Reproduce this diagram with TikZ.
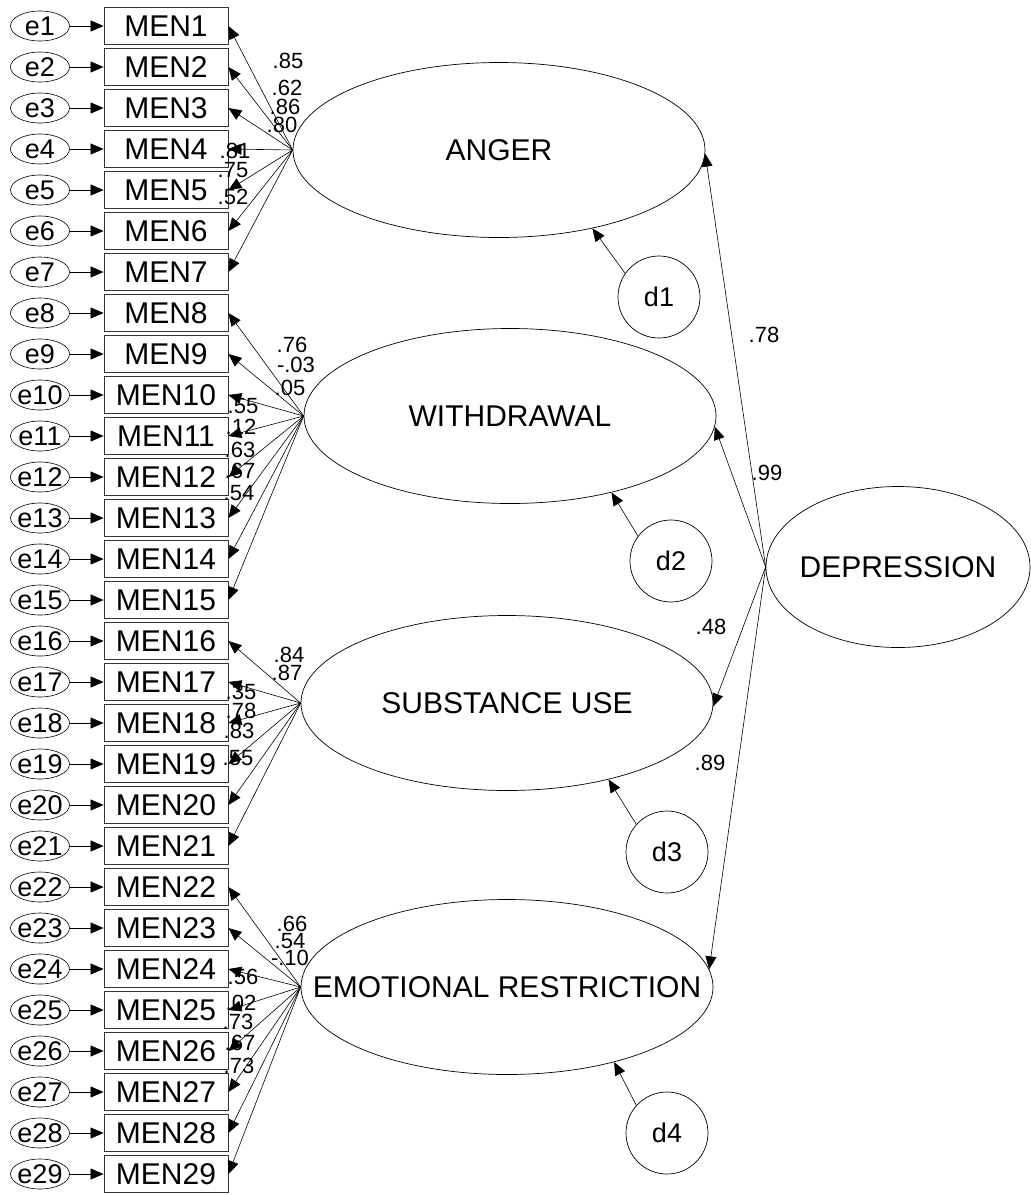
\documentclass[tikz,border=0pt]{standalone}
\usepackage{fontspec}
\setmainfont{Liberation Sans}
\usetikzlibrary{arrows.meta,shapes.geometric}
\newcommand{\ItemFont}{\fontsize{30}{34}\selectfont}
\newcommand{\ErrFont}{\fontsize{27}{31}\selectfont}
\newcommand{\CoefFont}{\fontsize{22}{25}\selectfont}
\tikzset{
  obsbox/.style={draw=black!80,line width=0.8pt,minimum width=124pt,minimum height=37pt,inner sep=0pt,font=\ItemFont},
  errnode/.style={ellipse,draw,line width=0.6pt,minimum width=59pt,minimum height=30pt,inner sep=0pt,font=\ErrFont},
  latent/.style={ellipse,draw,line width=0.7pt,minimum width=412pt,minimum height=175pt,inner sep=0pt,font=\ItemFont},
  distnode/.style={circle,draw,line width=0.7pt,minimum size=82pt,inner sep=0pt,font=\ErrFont},
  arrline/.style={-{Triangle[length=13pt,width=11pt]},line width=0.6pt},
  coef/.style={font=\CoefFont,inner sep=0pt},
}
\begin{document}
\begin{tikzpicture}[x=1pt,y=-1pt]
  \useasboundingbox (0,0) rectangle (1031,1195);
  % items with their error terms
  \foreach \i in {1,...,29}{
    \node[obsbox] (m\i) at (166,{26+41*(\i-1)}) {MEN\i};
    \node[errnode] (e\i) at (40,{26+41*(\i-1)}) {\makebox[0pt]{e\i}};
    \draw[arrline] (e\i) -- (m\i);
  }
  % first-order factors
  \node[latent] (anger) at (499,150) {\makebox[0pt]{ANGER}};
  \node[latent] (withd) at (510,416) {\makebox[0pt]{WITHDRAWAL}};
  \node[latent] (subst) at (507,703) {\makebox[0pt]{SUBSTANCE USE}};
  \node[latent] (emo) at (507,987) {\makebox[0pt]{EMOTIONAL RESTRICTION}};
  % second-order factor
  \node[latent,minimum width=264pt,minimum height=161pt] (depr) at (898,567) {\makebox[0pt]{DEPRESSION}};
  % disturbances
  \node[distnode] (d1) at (659,297) {d1};
  \node[distnode] (d2) at (671,561) {d2};
  \node[distnode] (d3) at (667,852) {d3};
  \node[distnode] (d4) at (667,1133) {d4};
  % coefficients
  \foreach \v/\x/\y [count=\k] in {.85/288/61,.62/287/88,.86/285/107,.80/282/125,.81/235/151,.75/233/170,.52/233/197,
      .76/292/345,-.03/296/365,.05/290/388,.55/243/406,.12/241/427,.63/240/450,.67/240/471,.54/239/493,
      .84/289/655,.87/287/673,.35/241/692,.78/241/711,.83/239/731,.55/238/758,
      .66/292/924,.54/290/941,-.10/290/958,.56/243/977,.02/241/1003,.73/238/1022,.67/240/1043,.73/239/1066,
      .78/764/335,.99/767/473,.48/711/627,.89/710/763}
    \node[coef] (c\k) at (\x,\y) {\v};
  % loadings
  \foreach \i in {1,...,7} \draw[arrline] (anger.west) -- (m\i.east);
  \foreach \i in {8,...,15} \draw[arrline] (withd.west) -- (m\i.east);
  \foreach \i in {16,...,21} \draw[arrline] (subst.west) -- (m\i.east);
  \foreach \i in {22,...,29} \draw[arrline] (emo.west) -- (m\i.east);
  \draw[arrline] (d1.145) -- (anger.-40);
  \draw[arrline] (d2.143) -- (withd.-37);
  \draw[arrline] (d3.138) -- (subst.-37);
  \draw[arrline] (d4.138) -- (emo.-35);
  \draw[arrline] (depr.west) -- (anger.-1);
  \draw[arrline] (depr.west) -- (withd.-3);
  \draw[arrline] (depr.west) -- (subst.-1);
  \draw[arrline] (depr.west) -- (emo.5);
\end{tikzpicture}
\end{document}
